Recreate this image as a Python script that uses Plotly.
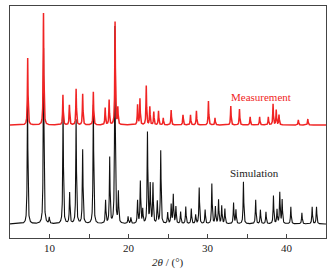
import numpy as np
import plotly.graph_objects as go

# Peak positions (2theta, deg) and heights (plot units above each baseline)
sim_pos = [7.22, 9.25, 9.97, 11.72, 12.55, 13.37, 14.2, 15.55, 17.1, 17.62, 18.28, 18.72,
           19.95, 20.3, 21.15, 21.5, 21.8, 22.4, 22.75, 23.1, 23.65, 24.08, 24.96, 25.4,
           25.67, 26.0, 26.6, 27.25, 27.95, 28.5, 28.95, 29.7, 30.55, 31.0, 31.4, 31.8,
           32.2, 33.3, 33.6, 34.55, 36.1, 36.7, 37.4, 38.35, 38.8, 39.15, 39.45, 40.55,
           41.95, 43.25, 43.8]
sim_h = [124, 176, 6, 114, 31, 104, 74, 119, 23, 66, 197, 31,
         7, 6, 23, 42, 14, 91, 39, 40, 22, 73, 11, 19,
         29, 17, 12, 17, 15, 9, 36, 14, 40, 17, 24, 18,
         15, 21, 14, 42, 24, 14, 12, 28, 14, 31, 24, 17,
         11, 17, 17]

meas_pos = [7.24, 9.24, 11.7, 12.52, 13.37, 14.2, 15.55, 17.05, 17.55, 18.3, 18.65,
            21.15, 21.45, 22.25, 22.7, 23.2, 23.8, 24.4, 25.4, 26.9, 27.85, 28.6, 30.12,
            30.95, 32.95, 34.05, 35.4, 36.6, 37.7, 38.3, 38.7, 39.05, 41.5, 42.7]
meas_h = [67, 112, 30, 20, 36, 31, 33, 17, 25, 103, 17,
          20, 26, 39, 18, 13, 14, 7, 15, 10, 10, 14, 24,
          7, 19, 16, 8, 8, 8, 21, 15, 10, 5, 6]

sim_base = 14
meas_base = 113
x_ticks = [10, 20, 30, 40]

x = np.arange(5.0, 45.0001, 0.01)


def profile(pos, h, base, w):
    y = np.full_like(x, float(base))
    for p, a in zip(pos, h):
        y += a / (1 + ((x - p) / (w / 2)) ** 2)
    return y


y_sim = profile(sim_pos, sim_h, sim_base, 0.10)
y_meas = profile(meas_pos, meas_h, meas_base, 0.09)

fig = go.Figure()
fig.add_trace(go.Scatter(x=x, y=y_sim, mode="lines",
                         line=dict(color="#111111", width=1.1), showlegend=False))
fig.add_trace(go.Scatter(x=x, y=y_meas, mode="lines",
                         line=dict(color="#f02424", width=1.5), showlegend=False))

serif = "Liberation Serif, Times New Roman, serif"
fig.add_annotation(x=36.8, y=141, text="Measurement", showarrow=False,
                   font=dict(family=serif, size=11, color="#f02424"))
fig.add_annotation(x=35.9, y=65, text="Simulation", showarrow=False,
                   font=dict(family=serif, size=11, color="#222222"))
fig.add_annotation(x=0.5, xref="paper", y=-0.07, yref="paper", yanchor="top",
                   text="<i>2θ</i> / (°)", showarrow=False,
                   font=dict(family=serif, size=11, color="#222222"))

fig.update_layout(
    width=336, height=272,
    margin=dict(l=10, r=10, t=6, b=34, autoexpand=False),
    plot_bgcolor="white", paper_bgcolor="white",
    font=dict(family=serif, size=11, color="#222222"),
)
fig.update_xaxes(
    range=[5, 45], tickvals=x_ticks, ticks="inside", ticklen=4, tickcolor="#444",
    showline=True, linecolor="#444", linewidth=1, mirror=True, showgrid=False,
    zeroline=False, tickfont=dict(family=serif, size=11), automargin=False,
    minor=dict(tickvals=[15, 25, 35], ticks="inside", ticklen=4, tickcolor="#444"),
)
fig.update_yaxes(
    range=[0, 232], showticklabels=False, ticks="", showline=True, linecolor="#444",
    linewidth=1, mirror=True, showgrid=False, zeroline=False, automargin=False,
)

fig.write_html("out.html", config={"displayModeBar": False},
               post_script="document.body.style.margin='0';document.body.style.overflow='hidden';")
